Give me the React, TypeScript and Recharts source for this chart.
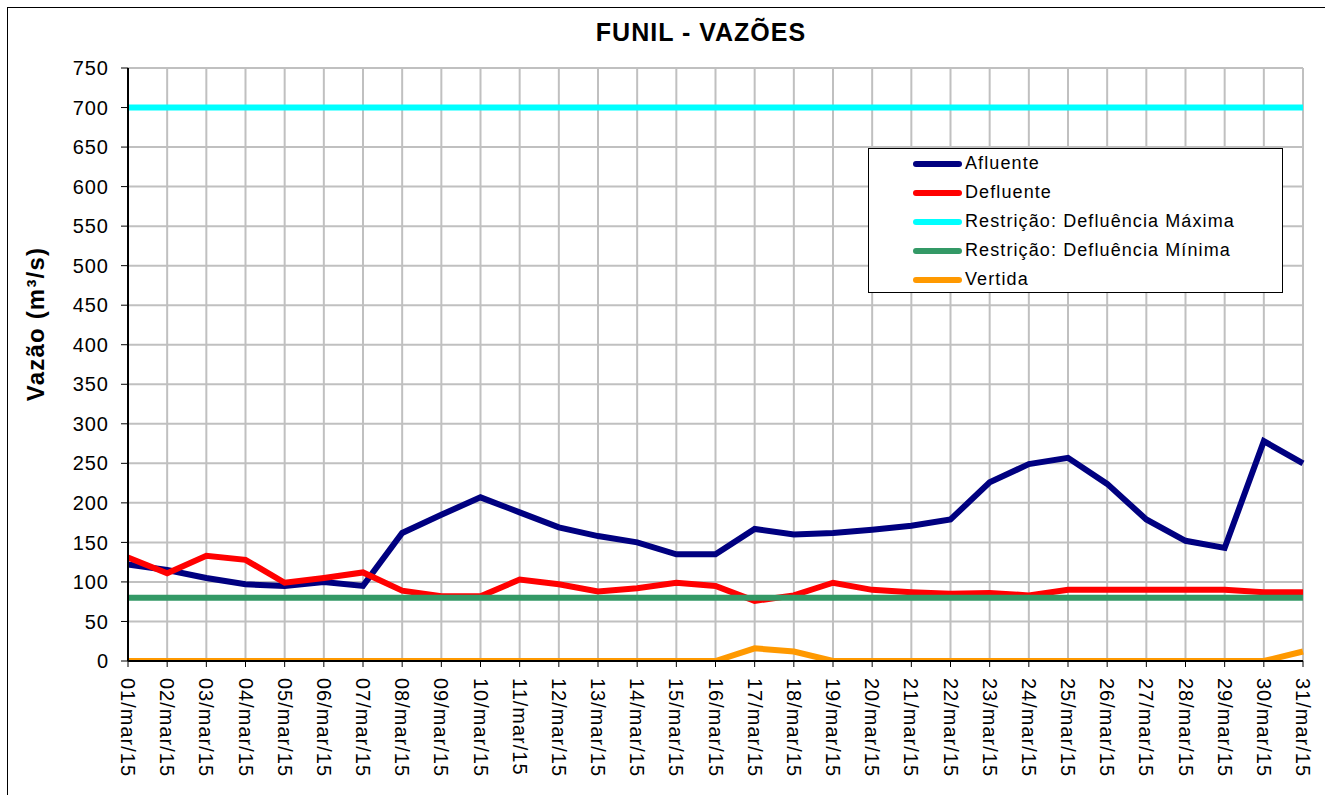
import React from 'react';
import { LineChart, Line, XAxis, YAxis, CartesianGrid } from 'recharts';

const days = [
  '01/mar/15', '02/mar/15', '03/mar/15', '04/mar/15', '05/mar/15', '06/mar/15', '07/mar/15', '08/mar/15',
  '09/mar/15', '10/mar/15', '11/mar/15', '12/mar/15', '13/mar/15', '14/mar/15', '15/mar/15', '16/mar/15',
  '17/mar/15', '18/mar/15', '19/mar/15', '20/mar/15', '21/mar/15', '22/mar/15', '23/mar/15', '24/mar/15',
  '25/mar/15', '26/mar/15', '27/mar/15', '28/mar/15', '29/mar/15', '30/mar/15', '31/mar/15',
];

const afluente = [
  122, 115, 105, 97, 95, 100, 95, 162, 185, 207, 188, 169, 158, 150, 135, 135,
  167, 160, 162, 166, 171, 179, 226, 249, 257, 224, 179, 152, 143, 278, 250,
];

const defluente = [
  131, 111, 133, 128, 99, 105, 112, 89, 82, 82, 103, 97, 88, 92, 99, 95,
  76, 83, 99, 90, 87, 85, 86, 83, 90, 90, 90, 90, 90, 87, 87,
];

const vertida = [
  0, 0, 0, 0, 0, 0, 0, 0, 0, 0, 0, 0, 0, 0, 0, 0,
  16, 12, 0, 0, 0, 0, 0, 0, 0, 0, 0, 0, 0, 0, 12,
];

const defMaxima = 700;
const defMinima = 80;

const yTicks = [0, 50, 100, 150, 200, 250, 300, 350, 400, 450, 500, 550, 600, 650, 700, 750];

const series = [
  { key: 'afluente', name: 'Afluente', color: '#000080', width: 6 },
  { key: 'defluente', name: 'Defluente', color: '#ff0000', width: 6 },
  { key: 'maxima', name: 'Restrição: Defluência Máxima', color: '#00ffff', width: 6 },
  { key: 'minima', name: 'Restrição: Defluência Mínima', color: '#339966', width: 6 },
  { key: 'vertida', name: 'Vertida', color: '#ff9900', width: 6 },
];

const data = days.map((d, i) => ({
  day: d,
  afluente: afluente[i],
  defluente: defluente[i],
  maxima: defMaxima,
  minima: defMinima,
  vertida: vertida[i],
}));

const font = 'Arial, "Liberation Sans", sans-serif';

// x labels read top to bottom, like the source sheet
const DayTick = (props: any) => {
  const { x, y, payload } = props;
  return (
    <text
      x={x}
      y={y}
      transform={`rotate(90, ${x}, ${y})`}
      dx={9}
      dy={7}
      textAnchor="start"
      fontSize={20}
      letterSpacing={1}
      fontFamily={font}
      fill="#000"
    >
      {payload.value}
    </text>
  );
};

const LegendBox = () => (
  <div
    style={{
      position: 'absolute',
      left: 868,
      top: 148,
      width: 415,
      height: 145,
      border: '1px solid #000',
      background: '#fff',
      boxSizing: 'border-box',
      paddingTop: 0,
      fontFamily: font,
      fontSize: 18,
      letterSpacing: 1.1,
    }}
  >
    {series.map((s) => (
      <div key={s.key} style={{ display: 'flex', alignItems: 'center', height: 29 }}>
        <div style={{ width: 49, height: 6, borderRadius: 3, background: s.color, marginLeft: 44, marginRight: 3 }} />
        <span style={{ color: '#000' }}>{s.name}</span>
      </div>
    ))}
  </div>
);

const App = () => {
  return (
    <div style={{ position: 'absolute', left: 0, top: 0, width: 1325, height: 795, overflow: 'hidden', background: '#fff' }}>
      <div
        style={{
          position: 'absolute',
          left: 7,
          top: 7,
          width: 1330,
          height: 800,
          border: '1px solid #000',
          boxSizing: 'border-box',
        }}
      />
      <div
        style={{
          position: 'absolute',
          left: 0,
          top: 18,
          width: 1402,
          textAlign: 'center',
          fontFamily: font,
          fontWeight: 'bold',
          fontSize: 25,
          letterSpacing: 1,
          color: '#000',
        }}
      >
        FUNIL - VAZÕES
      </div>
      <div
        style={{
          position: 'absolute',
          left: 36,
          top: 324,
          transform: 'translate(-50%, -50%) rotate(-90deg)',
          fontFamily: font,
          fontWeight: 'bold',
          fontSize: 24,
          letterSpacing: 1.2,
          whiteSpace: 'nowrap',
          color: '#000',
        }}
      >
        Vazão (m³/s)
      </div>
      <div style={{ position: 'absolute', left: 0, top: 0 }}>
        <LineChart width={1325} height={795} data={data} margin={{ top: 68, right: 22, bottom: 24, left: 68 }}>
          <CartesianGrid stroke="#c0c0c0" strokeWidth={2} />
          <XAxis
            dataKey="day"
            interval={0}
            height={110}
            tick={<DayTick />}
            tickLine={{ stroke: '#000' }}
            tickSize={6}
            axisLine={{ stroke: '#000', strokeWidth: 2 }}
          />
          <YAxis
            width={60}
            domain={[0, 750]}
            ticks={yTicks}
            interval={0}
            allowDataOverflow
            tick={{ fontSize: 20, fontFamily: font, fill: '#000', letterSpacing: 1 }}
            tickLine={{ stroke: '#000' }}
            tickSize={7}
            tickMargin={12}
            axisLine={{ stroke: '#000', strokeWidth: 2 }}
          />
          {series.map((s) => (
            <Line
              key={s.key}
              type="linear"
              dataKey={s.key}
              name={s.name}
              stroke={s.color}
              strokeWidth={s.width}
              dot={false}
              activeDot={false}
              isAnimationActive={false}
            />
          ))}
        </LineChart>
      </div>
      <LegendBox />
    </div>
  );
};

export default App;
